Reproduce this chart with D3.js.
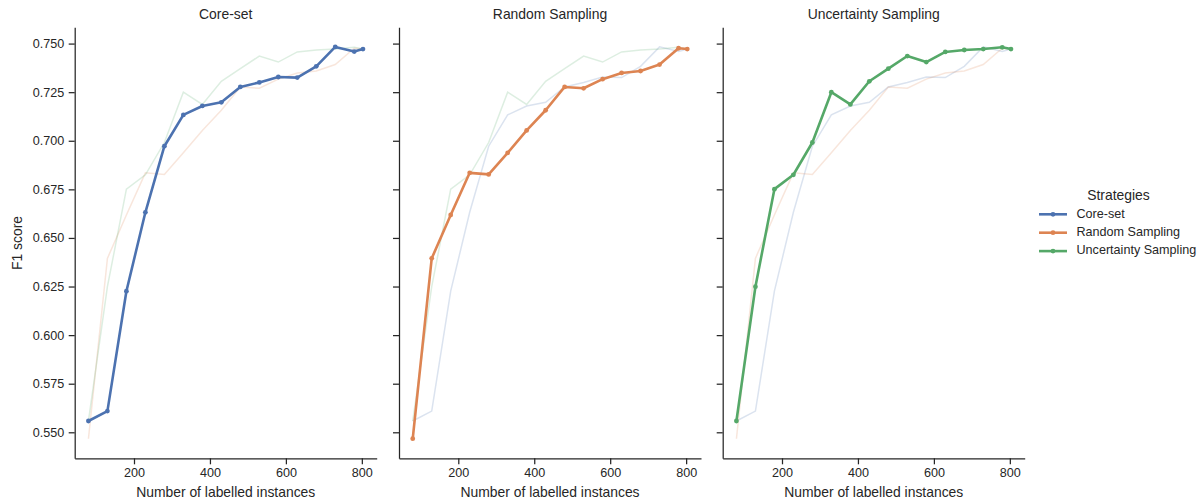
<!DOCTYPE html>
<html><head><meta charset="utf-8">
<script src="https://cdn.jsdelivr.net/npm/d3@7"></script>
<style>body{margin:0;background:#fff;} text{font-family:"Liberation Sans",Arial,sans-serif;fill:#262626;}</style>
</head><body><svg id="c" width="1204" height="504"></svg>
<script>
const strategies = ["Core-set", "Random Sampling", "Uncertainty Sampling"];
const colors = ["#4c72b0", "#dd8452", "#55a868"];
const instances = [80,130,180,230,280,330,380,430,480,530,580,630,680,730,780,803];
const coreSet = [0.5558,0.5609,0.6226,0.6632,0.6972,0.7133,0.7179,0.7198,0.7277,0.7300,0.7328,0.7325,0.7383,0.7483,0.7459,0.7472];
const randomSampling = [0.5467,0.6395,0.6618,0.6835,0.6827,0.6938,0.7053,0.7157,0.7277,0.7270,0.7317,0.7349,0.7359,0.7392,0.7476,0.7472];
const uncertaintySampling = [0.5558,0.6249,0.6751,0.6825,0.6991,0.7250,0.7187,0.7306,0.7371,0.7436,0.7405,0.7457,0.7467,0.7472,0.7481,0.7472];
const yTicks = [0.550,0.575,0.600,0.625,0.650,0.675,0.700,0.725,0.750];
const xTicks = [200,400,600,800];
const seriesValues = [coreSet, randomSampling, uncertaintySampling];

(function(){
const svg = d3.select("#c");
const plotTop = 27.3, plotBottom = 458.3, pw = 302;
const lefts = [74.7, 399, 722.7];
const xmin = d3.min(instances), xmax = d3.max(instances);
const xm = (xmax - xmin) * 0.05;
const allY = seriesValues.flat();
const ymin = d3.min(allY), ymax = d3.max(allY), ym = (ymax - ymin) * 0.05;
const y = d3.scaleLinear().domain([ymin - ym, ymax + ym]).range([plotBottom, plotTop]);

lefts.forEach((L, pi) => {
  const x = d3.scaleLinear().domain([xmin - xm, xmax + xm]).range([L, L + pw]);
  const g = svg.append("g");
  const line = d3.line().x((d,i) => x(instances[i])).y(d => y(d));
  seriesValues.forEach((vals, si) => {
    if (si === pi) return;
    g.append("path").datum(vals).attr("d", line).attr("fill","none")
      .attr("stroke", colors[si]).attr("stroke-opacity", 0.2).attr("stroke-width", 1.5);
  });
  const vals = seriesValues[pi];
  g.append("path").datum(vals).attr("d", line).attr("fill","none")
    .attr("stroke", colors[pi]).attr("stroke-width", 2.6).attr("stroke-linejoin","round");
  g.selectAll("circle").data(vals).join("circle")
    .attr("cx", (d,i) => x(instances[i])).attr("cy", d => y(d)).attr("r", 2.4)
    .attr("fill", colors[pi]);
  const xa = g.append("g").attr("transform", `translate(0,${plotBottom})`)
    .call(d3.axisBottom(x).tickValues(xTicks).tickSize(6).tickPadding(4).tickSizeOuter(0));
  const ya = g.append("g").attr("transform", `translate(${L},0)`)
    .call(d3.axisLeft(y).tickValues(yTicks).tickSize(6).tickPadding(4.5).tickSizeOuter(0)
      .tickFormat(pi === 0 ? d3.format(".3f") : () => ""));
  [xa, ya].forEach(a => {
    a.select(".domain").attr("stroke", "#262626").attr("stroke-width", 1.25);
    a.selectAll(".tick line").attr("stroke", "#262626").attr("stroke-width", 1.25);
    a.selectAll(".tick text").style("font-size", "12.6px").attr("fill", "#262626")
      .style("font-family", '"Liberation Sans",Arial,sans-serif');
  });
  g.append("text").attr("x", L + pw/2).attr("y", 493.3).attr("text-anchor","middle")
    .attr("dominant-baseline","middle").style("font-size","13.9px").text("Number of labelled instances");
  g.append("text").attr("x", L + pw/2).attr("y", 15.5).attr("text-anchor","middle")
    .attr("dominant-baseline","middle").style("font-size","13.9px").text(strategies[pi]);
});

svg.append("text").attr("transform","translate(18,243) rotate(-90)").attr("text-anchor","middle")
  .attr("dominant-baseline","middle").style("font-size","13.9px").text("F1 score");

const lg = svg.append("g");
lg.append("text").attr("x", 1118.5).attr("y", 196).attr("text-anchor","middle")
  .attr("dominant-baseline","middle").style("font-size","13.9px").text("Strategies");
strategies.forEach((s, i) => {
  const yy = 214.3 + i * 18.4;
  lg.append("line").attr("x1", 1039).attr("x2", 1067).attr("y1", yy).attr("y2", yy)
    .attr("stroke", colors[i]).attr("stroke-width", 2.6);
  lg.append("circle").attr("cx", 1053).attr("cy", yy).attr("r", 2.4).attr("fill", colors[i]);
  lg.append("text").attr("x", 1076.5).attr("y", yy).attr("dominant-baseline","middle")
    .style("font-size","12.6px").text(s);
});
})();
</script></body></html>
